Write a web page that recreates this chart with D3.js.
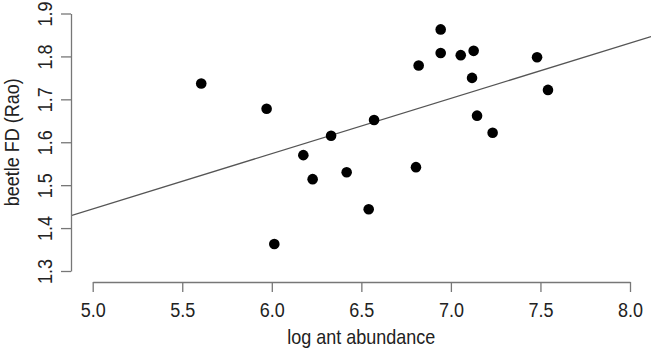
<!DOCTYPE html>
<html>
<head>
<meta charset="utf-8">
<script src="https://cdn.jsdelivr.net/npm/d3@7"></script>
<style>
  html, body { margin: 0; padding: 0; background: #fff; }
  svg { display: block; }
  text { font-family: "Liberation Sans", Arial, Helvetica, sans-serif; }
</style>
</head>
<body>
<svg id="chart" width="653" height="351"></svg>
<script>
// ---- data ----
const logAntAbundance = [5.606, 5.971, 6.014, 6.176, 6.228, 6.331, 6.418, 6.541, 6.571, 6.805,
                         6.820, 6.943, 6.943, 7.055, 7.127, 7.118, 7.146, 7.233, 7.481, 7.542];
const beetleFD = [1.737, 1.678, 1.363, 1.570, 1.514, 1.615, 1.530, 1.444, 1.652, 1.542,
                  1.779, 1.863, 1.808, 1.803, 1.813, 1.750, 1.662, 1.622, 1.798, 1.722];
const fitCoefficients = [0.800, 0.1289]; // intercept, slope of fitted line
const xTicks = [5.0, 5.5, 6.0, 6.5, 7.0, 7.5, 8.0];
const yTicks = [1.3, 1.4, 1.5, 1.6, 1.7, 1.8, 1.9];
const xTitle = "log ant abundance";
const yTitle = "beetle FD (Rao)";

// ---- layout ----
const svg = d3.select("#chart");
const x = d3.scaleLinear().domain([5, 8]).range([92.7, 630]);
const y = d3.scaleLinear().domain([1.3, 1.9]).range([271, 13.5]);
const plotLeft = 71, plotRight = 651, plotTop = 0, plotBottom = 282;
const fontSize = 18;
const glyphStretch = 1.08; // reference glyphs are slightly taller than wide

svg.append("defs").append("clipPath").attr("id", "plotclip")
  .append("rect").attr("x", plotLeft).attr("y", plotTop)
  .attr("width", plotRight - plotLeft).attr("height", plotBottom - plotTop);

// Fitted line across the full plot region (clipped like R's abline)
const xd0 = x.invert(plotLeft), xd1 = x.invert(plotRight);
svg.append("line")
  .attr("clip-path", "url(#plotclip)")
  .attr("x1", x(xd0)).attr("y1", y(fitCoefficients[0] + fitCoefficients[1] * xd0))
  .attr("x2", x(xd1)).attr("y2", y(fitCoefficients[0] + fitCoefficients[1] * xd1))
  .attr("stroke", "#555").attr("stroke-width", 1.3);

// Points
svg.append("g").selectAll("circle")
  .data(logAntAbundance.map((v, i) => [v, beetleFD[i]]))
  .join("circle")
  .attr("cx", d => x(d[0])).attr("cy", d => y(d[1]))
  .attr("r", 5.3).attr("fill", "#000");

// X axis
const gx = svg.append("g").attr("transform", `translate(0,${plotBottom})`)
  .call(d3.axisBottom(x).tickValues(xTicks).tickFormat(d3.format(".1f"))
        .tickSize(10).tickSizeOuter(0));
gx.selectAll("path, line").attr("stroke", "#777").attr("stroke-width", 1.3);
gx.selectAll("text").attr("y", 0).attr("dy", 0)
  .attr("transform", `translate(0,35) scale(1,${glyphStretch})`)
  .attr("font-size", fontSize).attr("fill", "#222")
  .style("font-family", '"Liberation Sans", Arial, sans-serif');

// Y axis
const gy = svg.append("g").attr("transform", `translate(${plotLeft},0)`)
  .call(d3.axisLeft(y).tickValues(yTicks).tickFormat(d3.format(".1f"))
        .tickSize(10).tickSizeOuter(0));
gy.selectAll("path, line").attr("stroke", "#777").attr("stroke-width", 1.3);
gy.selectAll("text")
  .attr("x", null).attr("dy", null).attr("y", 0)
  .attr("transform", `translate(-19,0) rotate(-90) scale(1,${glyphStretch})`)
  .attr("text-anchor", "middle")
  .attr("font-size", fontSize).attr("fill", "#222")
  .style("font-family", '"Liberation Sans", Arial, sans-serif');

// Axis titles
svg.append("text")
  .attr("transform", `translate(${(x(5) + x(8)) / 2},344) scale(1,${glyphStretch})`)
  .attr("text-anchor", "middle").attr("font-size", fontSize).attr("fill", "#222")
  .text(xTitle);
svg.append("text")
  .attr("transform", `translate(19,${(y(1.3) + y(1.9)) / 2}) rotate(-90) scale(1,${glyphStretch})`)
  .attr("text-anchor", "middle").attr("font-size", fontSize).attr("fill", "#222")
  .text(yTitle);
</script>
</body>
</html>
